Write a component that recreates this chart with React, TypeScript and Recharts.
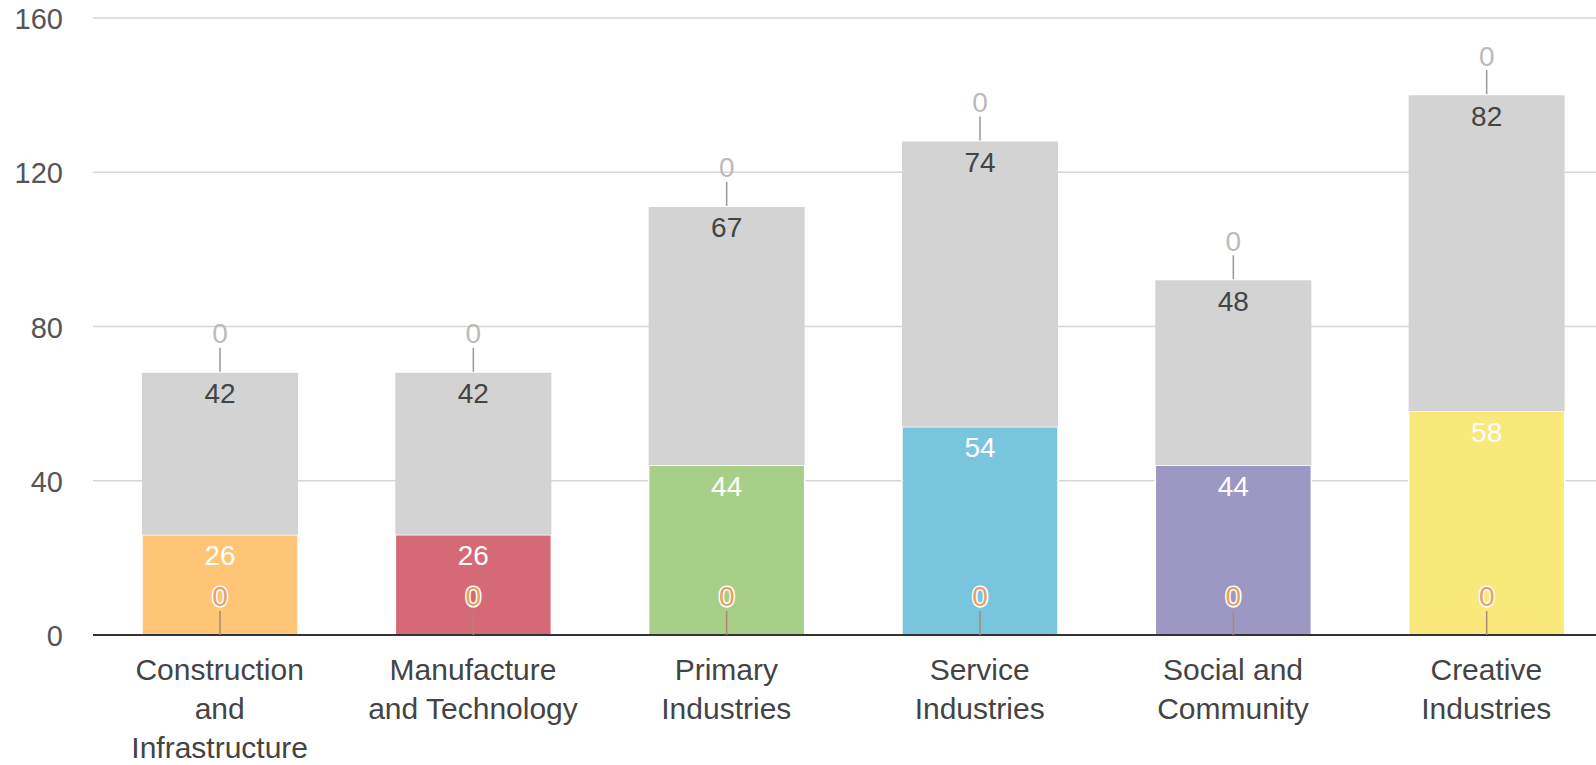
import { BarChart, Bar, XAxis, YAxis, CartesianGrid, Cell, LabelList } from 'recharts'

const categories = [
  'Construction and Infrastructure',
  'Manufacture and Technology',
  'Primary Industries',
  'Service Industries',
  'Social and Community',
  'Creative Industries',
]
const baseZeros = [0, 0, 0, 0, 0, 0]
const sectorValues = [26, 26, 44, 54, 44, 58]
const otherValues = [42, 42, 67, 74, 48, 82]
const topZeros = [0, 0, 0, 0, 0, 0]
const yTicks = [0, 40, 80, 120, 160]

const sectorColors = ['#FEC577', '#D56976', '#A7CF87', '#7AC5DE', '#9D97C4', '#F9E87A']
const OTHER_COLOR = '#D3D3D3'
const FONT = '"Liberation Sans", Arial, Helvetica, sans-serif'

const data = categories.map((name, i) => ({
  name,
  baseZero: baseZeros[i],
  sector: sectorValues[i],
  other: otherValues[i],
  topZero: topZeros[i],
}))

let ctx: CanvasRenderingContext2D | null = null
function wrapLabel(text: string, maxWidth: number, fontSize: number): string[] {
  if (!ctx) ctx = document.createElement('canvas').getContext('2d')
  if (ctx) ctx.font = `${fontSize}px ${FONT}`
  const measure = (s: string) => (ctx ? ctx.measureText(s).width : s.length * fontSize * 0.55)
  const lines: string[] = []
  let cur = ''
  for (const w of text.split(' ')) {
    const next = cur ? cur + ' ' + w : w
    if (cur && measure(next) > maxWidth) {
      lines.push(cur)
      cur = w
    } else {
      cur = next
    }
  }
  if (cur) lines.push(cur)
  return lines
}

function box(props: any) {
  const vb = props.viewBox ?? {}
  return {
    x: props.x ?? vb.x,
    y: props.y ?? vb.y,
    width: props.width ?? vb.width,
    height: props.height ?? vb.height,
  }
}

function CategoryTick({ x, y, payload }: any) {
  const lines = wrapLabel(String(payload.value), 220, 30)
  return (
    <text x={x} y={y} textAnchor="middle" fontFamily={FONT} fontSize={30} fill="#444">
      {lines.map((l, i) => (
        <tspan key={i} x={x} dy={i === 0 ? 45 : 39}>
          {l}
        </tspan>
      ))}
    </text>
  )
}

function ValueTick({ x, y, payload }: any) {
  return (
    <text x={x} y={y + 1} textAnchor="end" dominantBaseline="central" fontFamily={FONT} fontSize={29} fill="#555">
      {payload.value}
    </text>
  )
}

function insideLabel(color: string) {
  return (props: any) => {
    const { x, y, width } = box(props)
    return (
      <text
        x={x + width / 2}
        y={y + 21}
        textAnchor="middle"
        dominantBaseline="central"
        fontFamily={FONT}
        fontSize={28}
        fill={color}
      >
        {props.value}
      </text>
    )
  }
}

// zero series sitting at the bottom of the stack: label drawn from the sector bar's bottom edge
function BaseZeroLabel(props: any) {
  const { x, y, width, height } = box(props)
  const cx = x + width / 2
  const base = y + height
  return (
    <g>
      <line x1={cx} x2={cx} y1={base} y2={base - 24} stroke="#a88a74" strokeWidth={1.5} />
      <text
        x={cx}
        y={base - 39}
        textAnchor="middle"
        dominantBaseline="central"
        fontFamily={FONT}
        fontSize={28}
        fill="#E8A063"
        stroke="#fff"
        strokeWidth={3}
        paintOrder="stroke"
      >
        {props.value}
      </text>
    </g>
  )
}

// zero series sitting on top of the stack: label drawn from the grey bar's top edge
function TopZeroLabel(props: any) {
  const { x, y, width } = box(props)
  const cx = x + width / 2
  return (
    <g>
      <line x1={cx} x2={cx} y1={y - 1} y2={y - 25} stroke="#999" strokeWidth={1.5} />
      <text
        x={cx}
        y={y - 39}
        textAnchor="middle"
        dominantBaseline="central"
        fontFamily={FONT}
        fontSize={28}
        fill="#bbb"
      >
        {props.value}
      </text>
    </g>
  )
}

export default function App() {
  return (
    <div style={{ position: 'absolute', left: 0, top: 0, width: 1596, height: 765, overflow: 'hidden', background: '#fff' }}>
      <BarChart
        width={1613}
        height={765}
        data={data}
        margin={{ top: 18, right: 0, bottom: 0, left: 0 }}
        barSize={156}
      >
        <CartesianGrid vertical={false} stroke="#d6d6d6" strokeWidth={1.5} />
        <XAxis
          dataKey="name"
          height={130}
          tickLine={false}
          tickSize={0}
          tickMargin={0}
          axisLine={{ stroke: '#333', strokeWidth: 2 }}
          tick={<CategoryTick />}
          interval={0}
        />
        <YAxis
          width={93}
          domain={[0, 160]}
          ticks={yTicks}
          axisLine={false}
          tickLine={false}
          tickSize={0}
          tickMargin={30}
          tick={<ValueTick />}
        />
        <Bar dataKey="baseZero" stackId="s" fill="#fff" isAnimationActive={false} />
        <Bar dataKey="sector" stackId="s" stroke="#fff" strokeWidth={1.5} isAnimationActive={false}>
          {data.map((_, i) => (
            <Cell key={i} fill={sectorColors[i]} />
          ))}
          <LabelList dataKey="sector" content={insideLabel('#fff')} />
          <LabelList dataKey="baseZero" content={BaseZeroLabel} />
        </Bar>
        <Bar dataKey="other" stackId="s" fill={OTHER_COLOR} isAnimationActive={false}>
          <LabelList dataKey="other" content={insideLabel('#444')} />
          <LabelList dataKey="topZero" content={TopZeroLabel} />
        </Bar>
        <Bar dataKey="topZero" stackId="s" fill={OTHER_COLOR} isAnimationActive={false} />
      </BarChart>
    </div>
  )
}
